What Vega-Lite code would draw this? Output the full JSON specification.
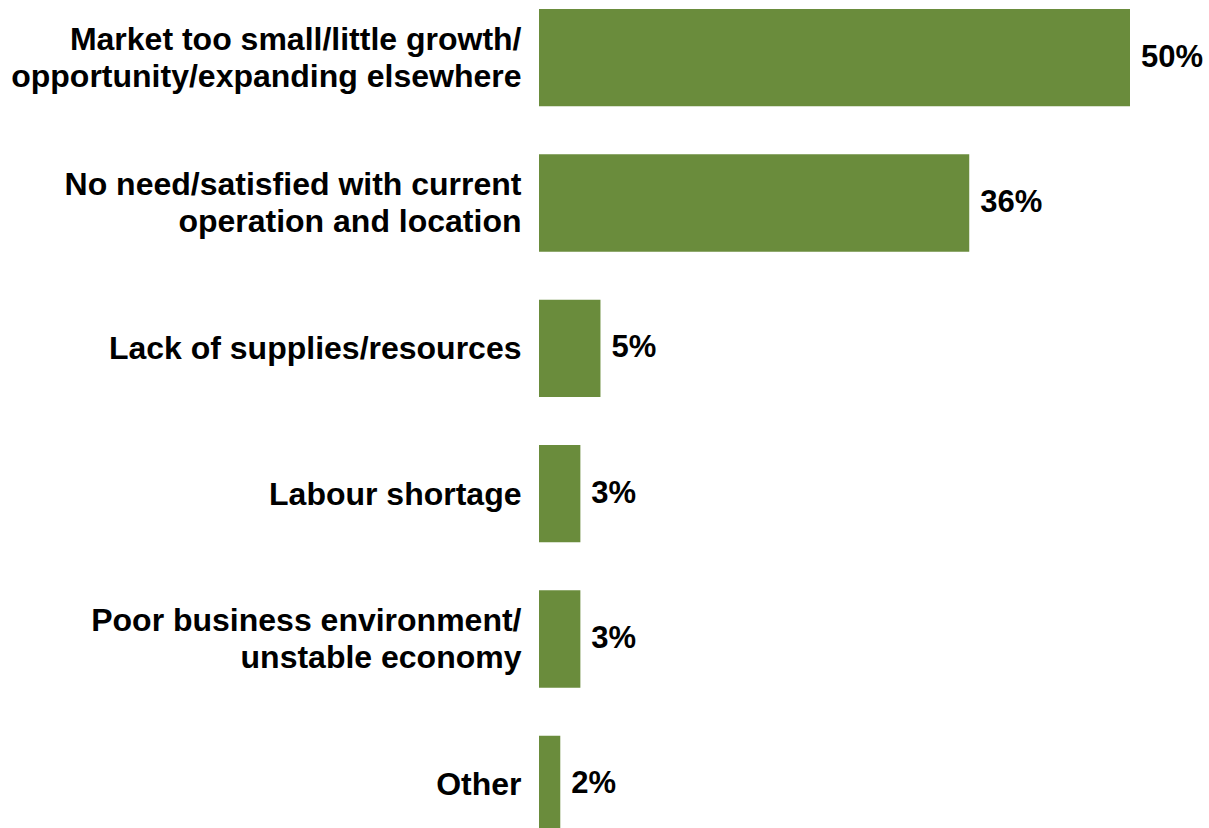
{
  "$schema": "https://vega.github.io/schema/vega-lite/v6.json",
  "autosize": {"type": "none"},
  "padding": {"left": 539, "top": 9, "right": 79, "bottom": 0},
  "width": 591,
  "height": 824,
  "background": "white",
  "config": {"view": {"stroke": null}, "font": "Liberation Sans"},
  "data": {
    "values": [
      {"reason": "Market too small/little growth/|opportunity/expanding elsewhere", "value": 50.0, "label": "50%"},
      {"reason": "No need/satisfied with current|operation and location", "value": 36.4, "label": "36%"},
      {"reason": "Lack of supplies/resources", "value": 5.2, "label": "5%"},
      {"reason": "Labour shortage", "value": 3.5, "label": "3%"},
      {"reason": "Poor business environment/|unstable economy", "value": 3.5, "label": "3%"},
      {"reason": "Other", "value": 1.8, "label": "2%"}
    ]
  },
  "encoding": {
    "y": {
      "field": "reason", "type": "nominal", "sort": null,
      "scale": {"paddingInner": 0.33, "paddingOuter": 0},
      "axis": {
        "title": null, "domain": false, "ticks": false, "labelPadding": 18,
        "labelExpr": "split(datum.label, '|')",
        "labelOffset": {"condition": {"test": "indexof(datum.label, '|') >= 0", "value": -18}, "value": 1},
        "labelFont": "Liberation Sans", "labelFontSize": 32, "labelFontWeight": "bold",
        "labelColor": "black", "labelLineHeight": 37, "labelLimit": 600
      }
    },
    "x": {
      "field": "value", "type": "quantitative",
      "scale": {"domain": [0, 50], "nice": false},
      "axis": null
    }
  },
  "layer": [
    {"mark": {"type": "bar", "color": "#6A8C3C"}},
    {
      "mark": {"type": "text", "align": "left", "baseline": "middle", "dx": 11, "font": "Liberation Sans", "fontSize": 31, "fontWeight": "bold", "color": "black"},
      "encoding": {"text": {"field": "label"}}
    }
  ]
}
